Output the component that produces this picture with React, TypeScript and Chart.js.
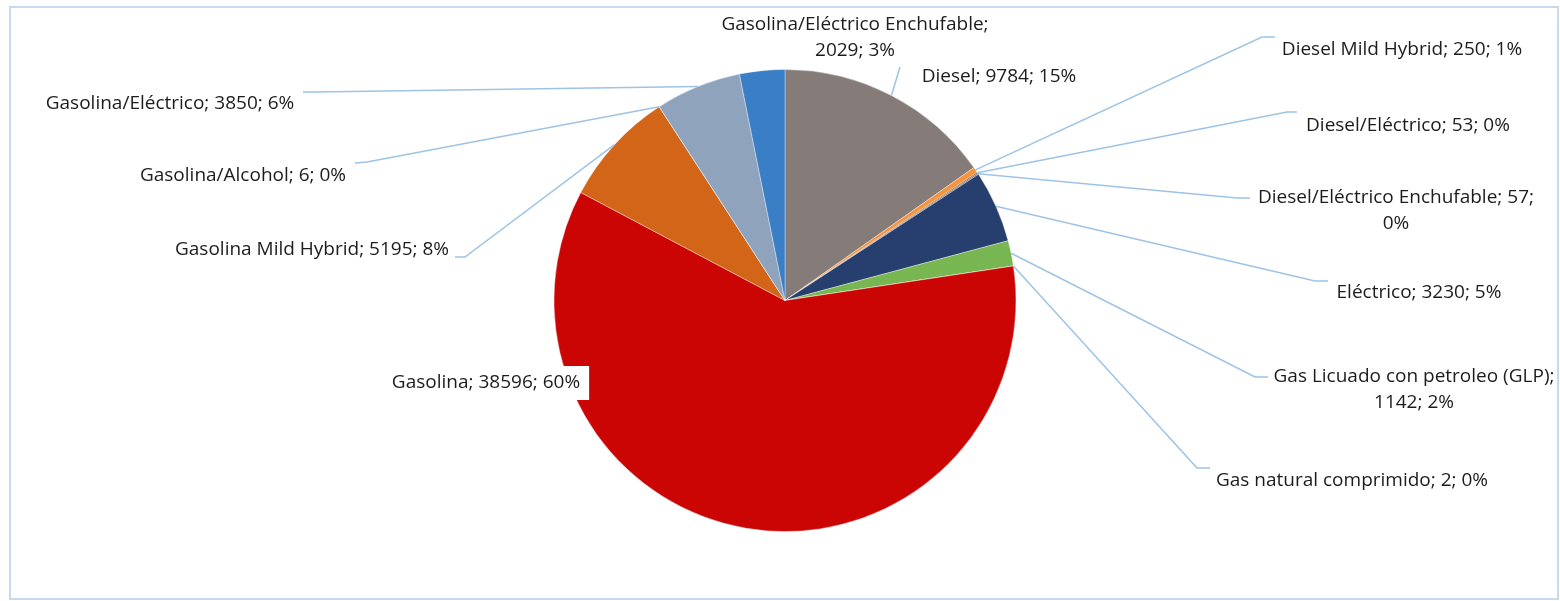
import React, { useEffect, useRef } from 'react';
import { Chart, registerables } from 'chart.js';

Chart.register(...registerables);

// ---- data ----
const categories = [
  'Diesel',
  'Diesel Mild Hybrid',
  'Diesel/Eléctrico',
  'Diesel/Eléctrico Enchufable',
  'Eléctrico',
  'Gas Licuado con petroleo (GLP)',
  'Gas natural comprimido',
  'Gasolina',
  'Gasolina Mild Hybrid',
  'Gasolina/Alcohol',
  'Gasolina/Eléctrico',
  'Gasolina/Eléctrico Enchufable',
];
const values = [9784, 250, 53, 57, 3230, 1142, 2, 38596, 5195, 6, 3850, 2029];
const percentLabels = [15, 1, 0, 0, 5, 2, 0, 60, 8, 0, 6, 3];

// ---- styles ----
const colors = [
  '#857c79',
  '#f5933f',
  '#9e480e',
  '#636363',
  '#263f6e',
  '#78b651',
  '#255e91',
  '#cb0404',
  '#d26517',
  '#997300',
  '#8fa3bd',
  '#3a7fc6',
];

// ---- label layout (page pixels): centre of text, line wrap mode, leader elbow points ----
// wrap: 0 = one line, 1 = break after category, 2 = break after value
type LabelLayout = { cx: number; cy: number; wrap: number; leader: number[][] | null; box?: boolean };
const labelLayout: LabelLayout[] = [
  { cx: 999, cy: 77, wrap: 0, leader: [[900, 67]] },
  { cx: 1402, cy: 50, wrap: 0, leader: [[1262, 37], [1275, 37]] },
  { cx: 1408, cy: 126, wrap: 0, leader: [[1287, 112], [1297, 112]] },
  { cx: 1396, cy: 211, wrap: 2, leader: [[1237, 198], [1250, 198]] },
  { cx: 1419, cy: 293, wrap: 0, leader: [[1315, 281], [1328, 281]] },
  { cx: 1414, cy: 390, wrap: 1, leader: [[1255, 377], [1268, 377]] },
  { cx: 1352, cy: 481, wrap: 0, leader: [[1197, 468], [1210, 468]] },
  { cx: 486, cy: 383, wrap: 0, leader: null, box: true },
  { cx: 312, cy: 250, wrap: 0, leader: [[465, 257], [455, 257]] },
  { cx: 243, cy: 176, wrap: 0, leader: [[367, 162], [355, 163]] },
  { cx: 170, cy: 104, wrap: 0, leader: [[315, 92], [303, 92]] },
  { cx: 855, cy: 38, wrap: 1, leader: null },
];

const W = 1560;
const H = 601;
const LINE_H = 26;
const FONT = '19px "Open Sans", "Liberation Sans", sans-serif';

const labelPlugin = {
  id: 'excelLabels',
  afterDraw(chart: any) {
    const ctx = chart.ctx as CanvasRenderingContext2D;
    const meta = chart.getDatasetMeta(0);
    ctx.save();
    // frame
    ctx.strokeStyle = '#c5daf0';
    ctx.lineWidth = 2;
    ctx.strokeRect(10, 7, 1548, 592);

    // leader lines
    ctx.strokeStyle = '#9dc3e6';
    ctx.lineWidth = 1.5;
    meta.data.forEach((arc: any, i: number) => {
      const lay = labelLayout[i];
      if (!lay || !lay.leader) return;
      const p = arc.getProps(['x', 'y', 'startAngle', 'endAngle', 'outerRadius'], true);
      const mid = (p.startAngle + p.endAngle) / 2;
      const sx = p.x + Math.cos(mid) * p.outerRadius;
      const sy = p.y + Math.sin(mid) * p.outerRadius;
      ctx.beginPath();
      ctx.moveTo(sx, sy);
      lay.leader.forEach((pt) => ctx.lineTo(pt[0], pt[1]));
      ctx.stroke();
    });

    // labels
    ctx.font = FONT;
    ctx.textAlign = 'center';
    ctx.textBaseline = 'middle';
    categories.forEach((cat, i) => {
      const lay = labelLayout[i];
      const v = values[i];
      const pc = percentLabels[i] + '%';
      let lines: string[];
      if (lay.wrap === 1) lines = [`${cat};`, `${v}; ${pc}`];
      else if (lay.wrap === 2) lines = [`${cat}; ${v};`, pc];
      else lines = [`${cat}; ${v}; ${pc}`];
      const top = lay.cy - ((lines.length - 1) * LINE_H) / 2;
      if (lay.box) {
        const w = Math.max(...lines.map((l) => ctx.measureText(l).width)) + 18;
        const h = (lines.length - 1) * LINE_H + 34;
        ctx.fillStyle = '#ffffff';
        ctx.fillRect(lay.cx - w / 2, top - 17, w, h);
      }
      ctx.fillStyle = '#1c1c1c';
      lines.forEach((l, k) => ctx.fillText(l, lay.cx, top + k * LINE_H));
    });
    ctx.restore();
  },
};

export default function App() {
  const ref = useRef<HTMLCanvasElement | null>(null);
  useEffect(() => {
    if (!ref.current) return;
    const chart = new Chart(ref.current, {
      type: 'pie',
      data: {
        labels: categories,
        datasets: [
          {
            data: values,
            backgroundColor: colors,
            borderColor: 'rgba(255,255,255,0.35)',
            borderWidth: 1,
          },
        ],
      },
      options: {
        responsive: false,
        animation: false,
        devicePixelRatio: 1,
        layout: { padding: { left: 553, right: 543, top: 69, bottom: 69 } },
        plugins: {
          legend: { display: false },
          tooltip: { enabled: false },
        },
      },
      plugins: [labelPlugin],
    });
    return () => chart.destroy();
  }, []);
  return (
    <div style={{ position: 'fixed', left: 0, top: 0, width: W, height: H, background: '#fff' }}>
      <canvas ref={ref} width={W} height={H} style={{ width: W, height: H, display: 'block' }} />
    </div>
  );
}
